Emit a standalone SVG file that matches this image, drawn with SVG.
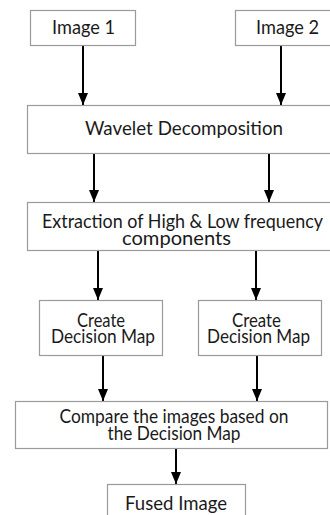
<svg xmlns="http://www.w3.org/2000/svg" width="330" height="515" viewBox="0 0 330 515">
<defs>
<style>
.box{fill:#fff;stroke:#9a9a9a;stroke-width:1.2}
.t{font-family:"Lato","Noto Sans",sans-serif;font-size:19px;fill:#1a1a1a;text-anchor:middle}
.c{stroke:#000;stroke-width:2;fill:none;marker-end:url(#ah)}
</style>
<marker id="ah" markerUnits="userSpaceOnUse" markerWidth="12" markerHeight="10" refX="12" refY="5" orient="auto">
<path d="M0,0 L12,5 L0,10 Z" fill="#000"/>
</marker>
</defs>
<rect width="330" height="515" fill="#fff"/>
<g id="connectors">
<line class="c" x1="83" y1="45" x2="83" y2="105"/>
<line class="c" x1="281" y1="45" x2="281" y2="105"/>
<line class="c" x1="94" y1="153" x2="94" y2="202"/>
<line class="c" x1="269" y1="153" x2="269" y2="202"/>
<line class="c" x1="98" y1="250" x2="98" y2="300"/>
<line class="c" x1="256" y1="250" x2="256" y2="300"/>
<line class="c" x1="103" y1="355" x2="103" y2="401"/>
<line class="c" x1="257" y1="355" x2="257" y2="401"/>
<line class="c" x1="176" y1="448" x2="176" y2="484"/>
</g>
<g id="image1"><rect class="box" x="30.5" y="10.5" width="105" height="35"/><text class="t" x="83.5" y="34" textLength="63" lengthAdjust="spacingAndGlyphs">Image 1</text></g>
<g id="image2"><rect class="box" x="235.5" y="10.5" width="110" height="35"/><text class="t" x="287.5" y="34" textLength="63" lengthAdjust="spacingAndGlyphs">Image 2</text></g>
<g id="wavelet"><rect class="box" x="27.5" y="105.5" width="320" height="48"/><text class="t" x="184" y="135" textLength="198" lengthAdjust="spacingAndGlyphs">Wavelet Decomposition</text></g>
<g id="extraction"><rect class="box" x="27.5" y="202.5" width="320" height="48"/><text class="t" x="182.5" y="228" textLength="281" lengthAdjust="spacingAndGlyphs">Extraction of High &amp; Low frequency</text><text class="t" x="176.5" y="245" textLength="109" lengthAdjust="spacingAndGlyphs">components</text></g>
<g id="decision1"><rect class="box" x="39.5" y="300.5" width="123" height="55"/><text class="t" x="101" y="327" textLength="48" lengthAdjust="spacingAndGlyphs">Create</text><text class="t" x="103" y="343" textLength="104" lengthAdjust="spacingAndGlyphs">Decision Map</text></g>
<g id="decision2"><rect class="box" x="198.5" y="300.5" width="123" height="55"/><text class="t" x="256.5" y="327" textLength="49" lengthAdjust="spacingAndGlyphs">Create</text><text class="t" x="258.5" y="343" textLength="103" lengthAdjust="spacingAndGlyphs">Decision Map</text></g>
<g id="compare"><rect class="box" x="15.5" y="401.5" width="312" height="47"/><text class="t" x="174" y="423" textLength="229" lengthAdjust="spacingAndGlyphs">Compare the images based on</text><text class="t" x="174" y="440" textLength="133" lengthAdjust="spacingAndGlyphs">the Decision Map</text></g>
<g id="fused"><rect class="box" x="107.5" y="484.5" width="138" height="40"/><text class="t" x="176" y="510" textLength="102" lengthAdjust="spacingAndGlyphs">Fused Image</text></g>
</svg>
